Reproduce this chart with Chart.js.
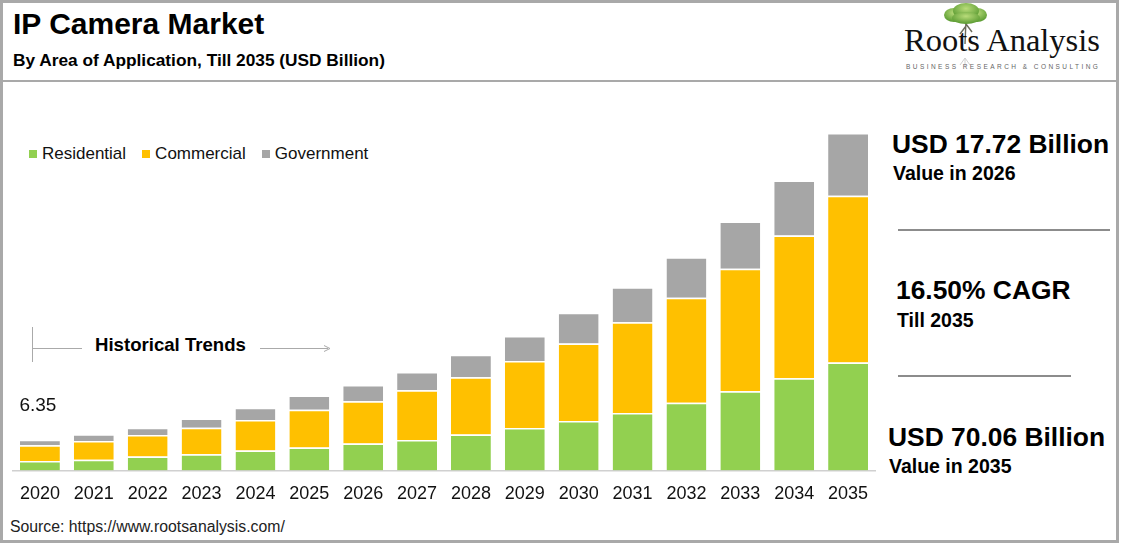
<!DOCTYPE html>
<html>
<head>
<meta charset="utf-8">
<script src="https://cdn.jsdelivr.net/npm/chart.js@4.4.1/dist/chart.umd.min.js"></script>
<style>
  body{margin:0;width:1123px;height:553px;background:#fff;font-family:"Liberation Sans",Arial,sans-serif;overflow:hidden;position:relative;}
  .frame{position:absolute;left:0;top:0;width:1113px;height:537px;border:3px solid #a9a9a9;}
  .sep{position:absolute;left:3px;top:80px;width:1113px;height:2px;background:#a9a9a9;}
  .t{position:absolute;white-space:nowrap;color:#000;font-weight:bold;}
  #wrap{position:absolute;left:0;top:85px;width:885px;height:433px;}
  .legend{position:absolute;left:29px;top:144px;font-size:17px;color:#111;}
  .legend span{display:inline-block;margin-right:16px;}
  .legend i{display:inline-block;width:8px;height:8px;margin-right:5px;vertical-align:1px;}
  .hr{position:absolute;height:2px;background:#8c8c8c;}
</style>
</head>
<body>
<div class="frame"></div>
<div class="sep"></div>

<div class="t" style="left:13px;top:7px;font-size:30px;">IP Camera Market</div>
<div class="t" style="left:13px;top:50px;font-size:17.3px;">By Area of Application, Till 2035 (USD Billion)</div>

<!-- logo -->
<svg style="position:absolute;left:930px;top:2px" width="70" height="66">
  <defs>
    <radialGradient id="g" cx="50%" cy="35%" r="60%">
      <stop offset="0" stop-color="#b9dc7a"/>
      <stop offset="1" stop-color="#5f9e35"/>
    </radialGradient>
  </defs>
  <path d="M36 18 L35 42 M36 24 L30 32 M36 22 L42 30" stroke="#6b6b5a" stroke-width="1.4" fill="none"/>
  <ellipse cx="24" cy="13" rx="10" ry="7" fill="url(#g)"/>
  <ellipse cx="47" cy="13" rx="10" ry="7" fill="url(#g)"/>
  <ellipse cx="36" cy="9" rx="13" ry="8" fill="url(#g)"/>
  <ellipse cx="36" cy="16" rx="14" ry="6" fill="url(#g)"/>
  <path d="M35 56 L30 63 M35 56 L40 63 M35 56 L35 64" stroke="#d0d0d0" stroke-width="1" fill="none"/>
</svg>
<div style="position:absolute;left:904px;top:22px;font-family:'Liberation Serif','Times New Roman',serif;font-size:32.5px;color:#111;white-space:nowrap;">Roots Analysis</div>
<div style="position:absolute;left:906px;top:63px;font-size:6.5px;letter-spacing:2.45px;color:#666;white-space:nowrap;">BUSINESS RESEARCH &amp; CONSULTING</div>

<div class="legend" id="legend"></div>

<!-- historical trends marker -->
<svg style="position:absolute;left:0;top:320px" width="340" height="50">
  <line x1="32.5" y1="7" x2="32.5" y2="42" stroke="#aaa" stroke-width="1"/>
  <line x1="33" y1="28.5" x2="82" y2="28.5" stroke="#aaa" stroke-width="1"/>
  <line x1="260" y1="28.5" x2="328" y2="28.5" stroke="#aaa" stroke-width="1"/>
  <path d="M324 25.5 L330 28.5 L324 31.5" stroke="#aaa" stroke-width="1" fill="none"/>
</svg>
<div class="t" style="left:95px;top:334px;font-size:18.6px;">Historical Trends</div>

<div id="wrap"><canvas id="c"></canvas></div>

<!-- right side facts -->
<div class="t" style="left:892px;top:129px;font-size:26.4px;">USD 17.72 Billion</div>
<div class="t" style="left:893px;top:162px;font-size:19.5px;">Value in 2026</div>
<div class="hr" style="left:898px;top:229px;width:212px;"></div>
<div class="t" style="left:896px;top:275px;font-size:26.4px;">16.50% CAGR</div>
<div class="t" style="left:897px;top:309px;font-size:19.5px;">Till 2035</div>
<div class="hr" style="left:898px;top:375px;width:173px;"></div>
<div class="t" style="left:888px;top:422px;font-size:26.4px;">USD 70.06 Billion</div>
<div class="t" style="left:889px;top:455px;font-size:19.5px;">Value in 2035</div>

<div style="position:absolute;left:10px;top:518px;font-size:15.8px;color:#222;white-space:nowrap;">Source: https://www.rootsanalysis.com/</div>

<script>
// values, USD billion
const years = ['2020','2021','2022','2023','2024','2025','2026','2027','2028','2029','2030','2031','2032','2033','2034','2035'];
const residential = [1.95, 2.19, 2.89, 3.37, 4.13, 4.75, 5.60, 6.32, 7.44, 8.80, 10.25, 11.90, 14.05, 16.45, 19.13, 22.38];
const commercial  = [3.25, 3.93, 4.46, 5.50, 6.32, 7.85, 8.75, 10.33, 11.90, 13.93, 16.12, 18.88, 21.82, 25.41, 29.63, 34.66];
const government  = [1.15, 1.38, 1.53, 1.92, 2.56, 2.95, 3.37, 3.80, 4.69, 5.17, 6.34, 7.23, 8.40, 9.79, 11.43, 13.02];
const seriesNames = ['Residential', 'Commercial', 'Government'];
const seriesColors = ['#92d050', '#ffc000', '#a6a6a6'];

const series = [residential, commercial, government];

// html legend from the series
document.getElementById('legend').innerHTML = seriesNames.map((n, i) =>
  `<span><i style="background:${seriesColors[i]}"></i>${n}</span>`).join('');

// total above the first bar
const firstTotal = {
  id: 'firstTotal',
  afterDatasetsDraw(chart){
    const bar = chart.getDatasetMeta(2).data[0];
    const total = series.reduce((s, a) => s + a[0], 0);
    const ctx = chart.ctx;
    ctx.save();
    ctx.font = '19px "Liberation Sans", Arial, sans-serif';
    ctx.fillStyle = '#111';
    ctx.textAlign = 'center';
    ctx.textBaseline = 'middle';
    ctx.fillText(total.toFixed(2), bar.x - 2, bar.y - 34);
    ctx.restore();
  }
};

new Chart(document.getElementById('c'), {
  type: 'bar',
  data: {
    labels: years,
    datasets: series.map((d, i) => ({
      label: seriesNames[i],
      data: d,
      backgroundColor: seriesColors[i],
      borderColor: '#ffffff',
      borderWidth: {top: 1.5, left: 0, right: 0, bottom: 0},
      borderSkipped: false,
      barPercentage: 0.74,
      categoryPercentage: 1
    }))
  },
  options: {
    responsive: true,
    maintainAspectRatio: false,
    animation: false,
    layout: {padding: {left: 13, right: 10, top: 15, bottom: 0}},
    plugins: {legend: {display: false}, tooltip: {enabled: false}},
    scales: {
      x: {
        stacked: true,
        grid: {display: false, drawTicks: false},
        border: {display: true, color: '#d0d0d0', width: 1.5},
        ticks: {padding: 13, color: '#111', font: {family: '"Liberation Sans", Arial, sans-serif', size: 18}}
      },
      y: {
        stacked: true,
        display: false,
        min: 0,
        max: 76.9
      }
    }
  },
  plugins: [firstTotal]
});
</script>
</body>
</html>
